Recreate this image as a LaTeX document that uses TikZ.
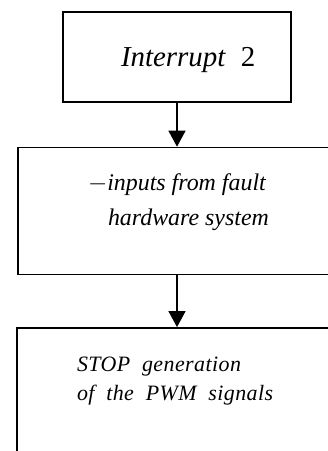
\documentclass[tikz,border=0pt]{standalone}
\usepackage{fontspec}
\setmainfont{Liberation Serif}
\newfontfamily\stopfont[LetterSpace=2, WordSpace=2]{Liberation Serif}
\usepackage{tikz}
\usetikzlibrary{arrows.meta, positioning}

\begin{document}
\begin{tikzpicture}[
  x=1bp, y=-1bp,
  >={Triangle[width=17bp, length=16bp]},
  line width=1.4bp,
  box/.style={
    rectangle, draw, inner sep=0pt,
  },
  txt/.style={
    inner sep=0pt, align=left,
  },
]
\useasboundingbox (0,0) rectangle (327,451);

% --- Boxes ---
\node[box, minimum width=228bp, minimum height=90bp] (box1) at (177,57) {};
\node[box, minimum width=327bp, minimum height=127bp, below=44bp of box1, xshift=4.5bp] (box2) {};
\node[box, minimum width=328bp, minimum height=155bp, below=52bp of box2, xshift=-0.5bp] (box3) {};

% --- Texts ---
\node[txt, font={\fontsize{29}{34}\selectfont\itshape}, below right=35bp and 58bp of box1.north west] (lbl1)
  {Interrupt\hspace{15bp}\textup{2}};
\node[txt, font={\fontsize{24}{35}\selectfont\itshape}, below right=26bp and 70bp of box2.north west] (lbl2)
  {$-$inputs from fault\\
   \hspace*{20bp}hardware system};
\node[txt, font={\fontsize{22}{29}\stopfont\itshape}, below right=29bp and 60bp of box3.north west] (lbl3)
  {STOP generation\\
   of the PWM signals};

% --- Arrows ---
\draw[->] (box1.south) -- (box1.south |- box2.north);
\draw[->] (box1.south |- box2.south) -- (box1.south |- box3.north);

\end{tikzpicture}
\end{document}
